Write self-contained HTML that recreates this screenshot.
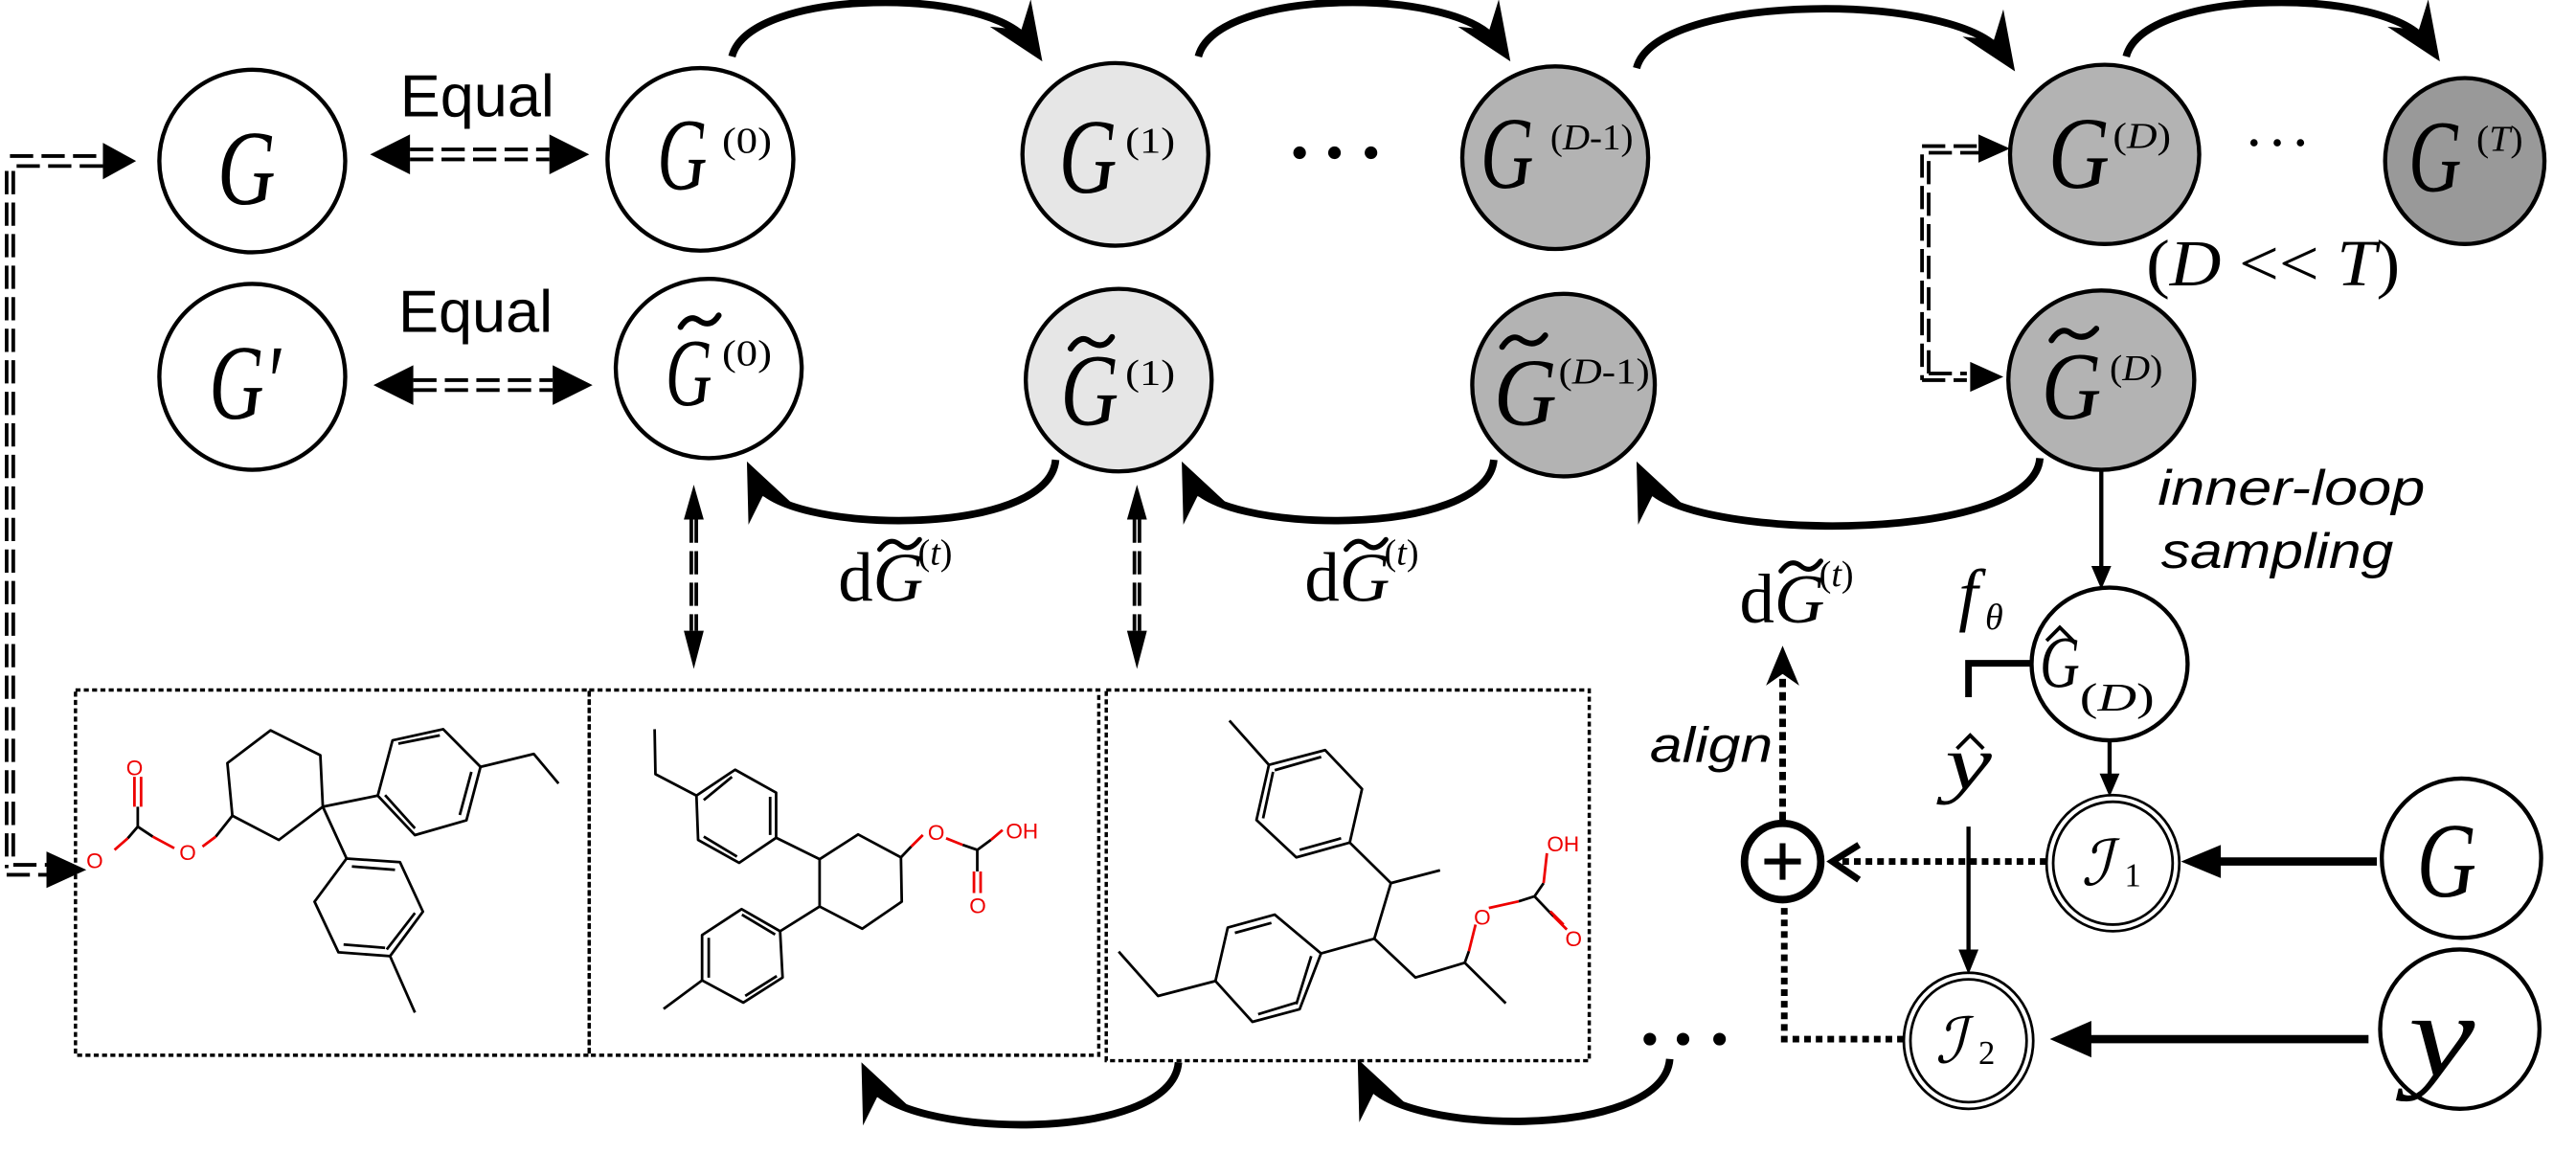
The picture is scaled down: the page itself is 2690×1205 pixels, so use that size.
<!DOCTYPE html>
<html><head><meta charset="utf-8"><style>
html,body{margin:0;padding:0;background:#fff;}
svg{display:block;}
.s{font-family:"Liberation Serif","DejaVu Serif",serif;}
.a{font-family:"Liberation Sans","DejaVu Sans",sans-serif;}
</style></head><body>
<svg width="2690" height="1205" viewBox="0 0 1552 695.2" xmlns="http://www.w3.org/2000/svg">
<defs>
<polygon id="th" points="0,0 -23.4,-15.5 -9.4,-14.1 -5.2,-27.7" fill="#000" transform="scale(1.35)"/>
<polygon id="bh" points="0,0 20.7,19.2 7,15.5 0.7,28.2" fill="#000" transform="scale(1.35)"/>
</defs>
<rect width="1552" height="695.2" fill="#fff"/>

<g fill="none" stroke="#000" stroke-width="4.5">
<path d="M441,34 C452,-8 598,-8 620,26"/>
<path d="M722,34 C733,-8 880,-8 902,26"/>
<path d="M986,41 C998,-5 1180,-5 1206,32"/>
<path d="M1281,34 C1292,-8 1440,-8 1462,26"/>
<path d="M636,277 C632,325 470,322 455,290"/>
<path d="M900,277 C896,325 732,322 717,290"/>
<path d="M1229,276 C1225,330 1005,326 991,290"/>
<path d="M1006,638 C1002,688 838,684 823,650"/>
<path d="M710,640 C706,690 540,686 524,652"/>
</g>
<use href="#th" x="628" y="37"/>
<use href="#th" x="910" y="37"/>
<use href="#th" x="1214" y="43"/>
<use href="#th" x="1470" y="37"/>
<use href="#bh" x="450" y="278"/>
<use href="#bh" x="712" y="278"/>
<use href="#bh" x="986" y="278"/>
<use href="#bh" x="818" y="638"/>
<use href="#bh" x="519" y="640"/>

<g stroke="#000" stroke-width="2.5">
<ellipse cx="152" cy="97" rx="56" ry="55" fill="#fff"/>
<ellipse cx="422" cy="96" rx="56" ry="55" fill="#fff"/>
<ellipse cx="672" cy="93" rx="56" ry="55" fill="#e6e6e6"/>
<ellipse cx="937" cy="95" rx="56" ry="55" fill="#b3b3b3"/>
<ellipse cx="1268" cy="93" rx="57" ry="54" fill="#b3b3b3"/>
<ellipse cx="1485" cy="97" rx="48" ry="50" fill="#999"/>
<ellipse cx="152" cy="227" rx="56" ry="56" fill="#fff"/>
<ellipse cx="427" cy="222" rx="56" ry="54" fill="#fff"/>
<ellipse cx="674" cy="229" rx="56" ry="55" fill="#e6e6e6"/>
<ellipse cx="942" cy="232" rx="55" ry="55" fill="#b3b3b3"/>
<ellipse cx="1266" cy="229" rx="56" ry="54" fill="#b3b3b3"/>
<ellipse cx="1271" cy="400" rx="47" ry="46" fill="#fff"/>
<ellipse cx="1483" cy="517" rx="48" ry="48" fill="#fff"/>
<ellipse cx="1482" cy="620" rx="48" ry="48" fill="#fff"/>
</g>
<g stroke="#000" stroke-width="1.6" fill="#fff">
<ellipse cx="1273" cy="520" rx="40" ry="41"/>
<ellipse cx="1273" cy="520" rx="36" ry="37"/>
<ellipse cx="1186" cy="627" rx="39" ry="41"/>
<ellipse cx="1186" cy="627" rx="35" ry="37"/>
</g>

<g class="s" font-style="italic" fill="#000">
<text x="131" y="123" font-size="64" textLength="35" lengthAdjust="spacingAndGlyphs">G</text>
<text x="396" y="114" font-size="62" textLength="30" lengthAdjust="spacingAndGlyphs">G</text>
<text x="638" y="116" font-size="64" textLength="35" lengthAdjust="spacingAndGlyphs">G</text>
<text x="892" y="113" font-size="62" textLength="32" lengthAdjust="spacingAndGlyphs">G</text>
<text x="1234" y="113" font-size="62" textLength="37" lengthAdjust="spacingAndGlyphs">G</text>
<text x="1451" y="115" font-size="62" textLength="32" lengthAdjust="spacingAndGlyphs">G</text>
<text x="126" y="252" font-size="64" textLength="43" lengthAdjust="spacingAndGlyphs">G′</text>
<text x="401" y="244" font-size="58" textLength="28" lengthAdjust="spacingAndGlyphs">G</text>
<text x="639" y="256" font-size="62" textLength="35" lengthAdjust="spacingAndGlyphs">G</text>
<text x="900" y="256" font-size="58" textLength="38" lengthAdjust="spacingAndGlyphs">G</text>
<text x="1230" y="252" font-size="58" textLength="36" lengthAdjust="spacingAndGlyphs">G</text>
<text x="1456" y="540" font-size="64" textLength="36" lengthAdjust="spacingAndGlyphs">G</text>
<text x="1451" y="648" font-size="72" textLength="40" lengthAdjust="spacingAndGlyphs">y</text>
</g>
<g class="s" fill="#000" font-size="22">
<text x="435" y="92" textLength="30" lengthAdjust="spacingAndGlyphs">(0)</text>
<text x="678" y="92" textLength="30" lengthAdjust="spacingAndGlyphs">(1)</text>
<text x="934" y="90" textLength="50" lengthAdjust="spacingAndGlyphs">(<tspan font-style="italic">D</tspan>-1)</text>
<text x="1273" y="89" textLength="35" lengthAdjust="spacingAndGlyphs">(<tspan font-style="italic">D</tspan>)</text>
<text x="1492" y="91" textLength="28" lengthAdjust="spacingAndGlyphs">(<tspan font-style="italic">T</tspan>)</text>
<text x="435" y="220" textLength="30" lengthAdjust="spacingAndGlyphs">(0)</text>
<text x="678" y="232" textLength="30" lengthAdjust="spacingAndGlyphs">(1)</text>
<text x="939" y="231" textLength="55" lengthAdjust="spacingAndGlyphs">(<tspan font-style="italic">D</tspan>-1)</text>
<text x="1271" y="229" textLength="32" lengthAdjust="spacingAndGlyphs">(<tspan font-style="italic">D</tspan>)</text>
</g>
<g fill="none" stroke="#000" stroke-width="3.5" stroke-linecap="round">
<path d="M410,197 Q415,189 421,193 Q428,198 433,190"/>
<path d="M645,210 Q651,201 657,206 Q665,211 670,203"/>
<path d="M905,209 Q911,200 917,205 Q925,210 931,202"/>
<path d="M1236,205 Q1242,196 1248,201 Q1256,206 1263,198"/>
</g>

<g class="a" fill="#000" font-size="36">
<text x="241" y="70" textLength="93" lengthAdjust="spacingAndGlyphs">Equal</text>
<text x="240" y="200" textLength="93" lengthAdjust="spacingAndGlyphs">Equal</text>
</g>
<g fill="#000">
<polygon points="223,93 247,81 247,105"/><polygon points="355,93 331,81 331,105"/>
<polygon points="225,232 249,220 249,244"/><polygon points="357,232 333,220 333,244"/>
</g>
<g stroke="#000" stroke-width="2.2" stroke-dasharray="14,5" fill="none">
<path d="M247,90 H331 M247,96 H331"/>
<path d="M249,229 H333 M249,235 H333"/>
<path d="M4,103 V523 M8,103 V519"/>
<path d="M6,94 H62 M10,100 H62"/>
<path d="M8,521 H30 M4,527 H30"/>
<path d="M416.5,313 V380 M419.5,313 V380"/>
<path d="M683.5,313 V380 M686.5,313 V380"/>
<path d="M1158,93 V229 M1162,97 V225"/>
<path d="M1158,88 H1193 M1162,92 H1193"/>
<path d="M1158,229 H1185 M1162,225 H1185"/>
</g>
<g fill="#000">
<polygon points="62,86 82,97 62,108"/>
<polygon points="28,513 52,524 28,535"/>
<polygon points="418,292 412,313 424,313"/>
<polygon points="418,403 412,380 424,380"/>
<polygon points="685,292 679,313 691,313"/>
<polygon points="685,403 679,380 691,380"/>
<polygon points="1192,81 1211,89.5 1192,98"/>
<polygon points="1187,218 1207,227 1187,236"/>
</g>

<g fill="#000">
<circle cx="783" cy="92" r="3.8"/><circle cx="804" cy="92" r="3.8"/><circle cx="826" cy="92" r="3.8"/>
<circle cx="1358" cy="86" r="2.2"/><circle cx="1372" cy="86" r="2.2"/><circle cx="1386" cy="86" r="2.2"/>
<circle cx="994" cy="626" r="3.8"/><circle cx="1014" cy="626" r="3.8"/><circle cx="1036" cy="626" r="3.8"/>
</g>

<text class="s" x="1293" y="172" font-size="40" textLength="153" lengthAdjust="spacingAndGlyphs">(<tspan font-style="italic">D</tspan> &lt;&lt; <tspan font-style="italic">T</tspan>)</text>

<g class="a" font-style="italic" font-size="30" fill="#000">
<text x="1300" y="304" textLength="161" lengthAdjust="spacingAndGlyphs">inner-loop</text>
<text x="1302" y="342" textLength="140" lengthAdjust="spacingAndGlyphs">sampling</text>
<text x="994" y="459" textLength="74" lengthAdjust="spacingAndGlyphs">align</text>
</g>

<g class="s" fill="#000">
<text x="505" y="362" font-size="42">d<tspan font-style="italic">G</tspan></text>
<text x="553" y="340" font-size="22">(<tspan font-style="italic">t</tspan>)</text>
<text x="786" y="362" font-size="42">d<tspan font-style="italic">G</tspan></text>
<text x="834" y="340" font-size="22">(<tspan font-style="italic">t</tspan>)</text>
<text x="1048" y="375" font-size="42">d<tspan font-style="italic">G</tspan></text>
<text x="1096" y="353" font-size="22">(<tspan font-style="italic">t</tspan>)</text>
</g>
<g fill="none" stroke="#000" stroke-width="3" stroke-linecap="round">
<path d="M530,331 Q536,323 542,328 Q548,333 554,325"/>
<path d="M811,331 Q817,323 823,328 Q829,333 835,325"/>
<path d="M1073,344 Q1079,336 1085,341 Q1091,346 1097,338"/>
</g>

<g class="s" fill="#000">
<text x="1180" y="372" font-size="42" font-style="italic">f</text>
<text x="1196" y="379" font-size="22" font-style="italic">θ</text>
<text x="1229" y="414" font-size="44" font-style="italic" textLength="24" lengthAdjust="spacingAndGlyphs">G</text>
<text x="1253" y="428" font-size="24" textLength="45" lengthAdjust="spacingAndGlyphs">(<tspan font-style="italic">D</tspan>)</text>
<text x="1172" y="475" font-size="46" font-style="italic" textLength="28" lengthAdjust="spacingAndGlyphs">y</text>
</g>
<g fill="none" stroke="#000" stroke-width="2.2">
<path d="M1233,386 L1241,378 L1249,386"/>
<path d="M1179,451 L1187,443 L1195,451"/>
</g>
<g class="s" fill="#000">
<text x="1254" y="533" font-size="38" font-family="DejaVu Serif" font-style="italic">ℐ</text>
<text x="1280" y="534" font-size="20">1</text>
<text x="1166" y="640" font-size="38" font-family="DejaVu Serif" font-style="italic">ℐ</text>
<text x="1192" y="641" font-size="20">2</text>
</g>

<g stroke="#000" fill="none">
<path d="M1266,283 V345" stroke-width="2.5"/>
<path d="M1224,399.6 H1186 V420" stroke-width="4"/>
<path d="M1271,446 V470" stroke-width="2.5"/>
<path d="M1186,498 V574" stroke-width="2.5"/>
<path d="M1432,519 H1336" stroke-width="5"/>
<path d="M1427,626 H1258" stroke-width="5"/>
<circle cx="1074" cy="519" r="23" stroke-width="4.5" fill="#fff"/>
<path d="M1074,508 V530 M1063,519 H1085" stroke-width="3.5"/>
<path d="M1233,519 H1104" stroke-width="4" stroke-dasharray="4,3"/>
<path d="M1120,509 L1104,519 L1120,530" stroke-width="4"/>
<path d="M1147,626 H1075 V545" stroke-width="4" stroke-dasharray="4,3"/>
<path d="M1074,494 V405" stroke-width="4" stroke-dasharray="5,3"/>
</g>
<g fill="#000">
<polygon points="1266,355 1260,341 1272,341"/>
<polygon points="1271,480 1265,466 1277,466"/>
<polygon points="1186,587 1180,572 1192,572"/>
<polygon points="1314,519 1338,509 1338,529"/>
<polygon points="1235,626 1260,615 1260,637"/>
<polygon points="1074,389 1064,413 1074,406 1084,413"/>
</g>

<g fill="none" stroke="#000" stroke-width="2" stroke-dasharray="3,2">
<rect x="45.5" y="415.7" width="309.5" height="220"/>
<rect x="355" y="415.7" width="307" height="220"/>
<rect x="666.5" y="415.7" width="291" height="223.3"/>
</g>

<g fill="none" stroke="#000" stroke-width="1.6" stroke-linejoin="round">
<polygon points="163,440 193,455 194.5,486 168,506 140,491.4 137,459.7"/>
<polyline points="194.5,486 227.6,479.3"/>
<polygon points="227.6,479.3 236.5,446 267,439.3 289.5,462 281,494.2 250,503.1"/>
<path d="M240,448 L265,443 M284,465 L277,491 M232,479 L250,499"/>
<polyline points="289.5,462 321.6,454.2 336.5,472"/>
<polyline points="194.5,486 208.8,517.2"/>
<polygon points="208.8,517.2 241,519.4 254.8,549.2 235,576 203.9,573.7 189.5,543.2"/>
<path d="M212,522 L238,524 M207,569 L232,571 M250,550 L233,572"/>
<polyline points="235,576 250,610"/>
<polyline points="140,491.4 130,504"/>
<polyline points="83,498 92,504"/>
<polyline points="83,498 83,486"/>
<polyline points="83,498 77,505"/>
</g>
<g fill="none" stroke="#e00" stroke-width="1.6">
<path d="M130,504 L122,510 M92,504 L105,511 M81,486 V468 M85,486 V468 M77,505 L69,512"/>
</g>
<g class="a" fill="#e00" font-size="13">
<text x="108" y="518">O</text><text x="76" y="467">O</text><text x="52" y="523">O</text>
</g>

<g fill="none" stroke="#000" stroke-width="1.6" stroke-linejoin="round">
<polygon points="493.8,517.6 517,502.7 542.8,516.5 543.3,543.2 519.5,559.5 493.8,546.1"/>
<polyline points="493.8,517.6 467.6,504.7"/>
<polygon points="467.6,504.7 467.6,477.5 442.9,463.7 419.6,479.3 420.6,506 445.3,519.8"/>
<path d="M464,480 V503 M424,482 L441,468 M424,504 L444,516"/>
<polyline points="419.6,479.3 394.9,466.4 394.4,439.3"/>
<polyline points="493.8,546.1 470,561"/>
<polygon points="470,561 471.5,588.9 447.8,604 423,590.6 423,563.3 446.8,547.7"/>
<path d="M467,563 L447,551 M427,565 V589 M449,600 L468,588"/>
<polyline points="423,590.6 399.8,607.8"/>
<polyline points="542.8,516.5 549,510"/>
<polyline points="580,509 588.8,512 597,506"/>
<polyline points="588.8,512 588.8,525"/>
</g>
<g fill="none" stroke="#e00" stroke-width="1.6">
<path d="M549,510 L556,503 M570,505 L580,509 M597,506 L604,500 M586.8,525 V538 M590.8,525 V538"/>
</g>
<g class="a" fill="#e00" font-size="13">
<text x="559" y="506">O</text><text x="606" y="505">OH</text><text x="584" y="550">O</text>
</g>

<g fill="none" stroke="#000" stroke-width="1.6" stroke-linejoin="round">
<polyline points="740.7,434.1 764.5,460.8"/>
<polygon points="764.5,460.8 798.4,451.9 820.6,475.3 813.2,507.6 781,516.5 757,494"/>
<path d="M768,464 L796,456 M808,505 L783,512 M761,493 L767,465"/>
<polyline points="813.2,507.6 838,532 867.6,524.3"/>
<polyline points="838,532 828,565.5"/>
<polyline points="828,565.5 795.9,574.4"/>
<polygon points="795.9,574.4 768,551 739.7,558.8 732.3,591 754.6,615.6 783,608"/>
<path d="M744,562 L766,556 M758,611 L781,604 M790,576 L781,605"/>
<polyline points="732.3,591 697.7,600 674,573.3"/>
<polyline points="828,565.5 852.8,588.9 882.5,580 907.2,604.4"/>
<polyline points="882.5,580 885,573"/>
<polyline points="915,543 924.5,540 930,532"/>
<polyline points="924.5,540 936,552"/>
</g>
<g fill="none" stroke="#e00" stroke-width="1.6">
<path d="M885,573 L889,557 M897,547 L915,543 M930,532 L932,514 M936,552 L944,560 M934,549 L942,557"/>
</g>
<g class="a" fill="#e00" font-size="13">
<text x="888" y="557">O</text><text x="932" y="513">OH</text><text x="943" y="570">O</text>
</g>
</svg>
</body></html>
